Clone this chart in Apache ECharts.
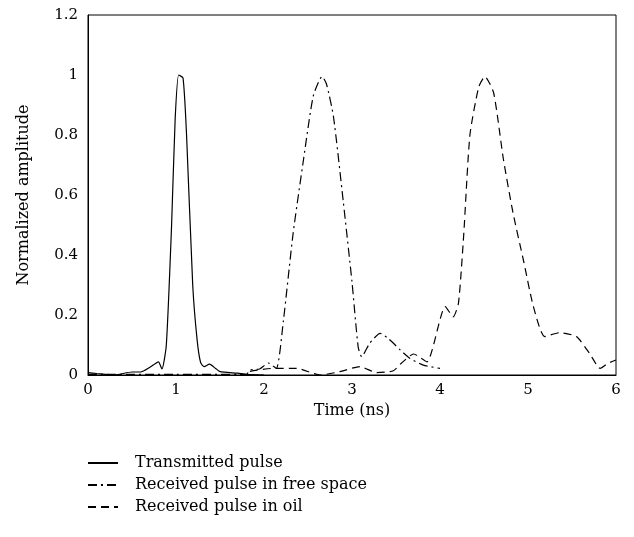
<!DOCTYPE html>
<html>
<head>
<meta charset="utf-8">
<script src="https://cdn.jsdelivr.net/npm/echarts@6/dist/echarts.min.js"></script>
<style>
  html, body { margin: 0; padding: 0; background: #fff; }
  #main { width: 634px; height: 537px; }
</style>
</head>
<body>
<div id="main"></div>
<script>
// time (ns) and amplitude
const txTime = [0, 0.1, 0.3, 0.5, 0.6, 0.7, 0.8, 0.84, 0.89, 0.95, 0.99, 1.03, 1.08, 1.12, 1.19, 1.24, 1.28, 1.32, 1.38, 1.45, 1.5, 1.7, 1.8, 2.0];
const txAmp  = [0.008, 0.005, 0, 0.01, 0.01, 0.025, 0.044, 0.02, 0.1, 0.5, 0.85, 1.0, 0.99, 0.8, 0.3, 0.117, 0.041, 0.028, 0.036, 0.022, 0.011, 0.006, 0.002, 0];

const freeTime = [0, 1.0, 1.8, 1.84, 1.95, 2.05, 2.14, 2.22, 2.33, 2.45, 2.56, 2.66, 2.71, 2.79, 2.9, 3.0, 3.07, 3.11, 3.2, 3.32, 3.41, 3.55, 3.66, 3.81, 4.0];
const freeAmp  = [0.002, 0.002, 0.002, 0.017, 0.02, 0.04, 0.022, 0.18, 0.47, 0.72, 0.93, 0.995, 0.97, 0.86, 0.58, 0.31, 0.094, 0.061, 0.105, 0.139, 0.122, 0.083, 0.055, 0.033, 0.022];

const oilTime = [1.84, 2.1, 2.37, 2.64, 2.86, 3.09, 3.28, 3.47, 3.56, 3.7, 3.85, 4.06, 4.15, 4.21, 4.27, 4.34, 4.44, 4.51, 4.61, 4.72, 4.83, 4.95, 5.06, 5.19, 5.36, 5.55, 5.7, 5.82, 5.91, 6.0];
const oilAmp  = [0.012, 0.022, 0.022, 0.0, 0.011, 0.028, 0.008, 0.014, 0.039, 0.07, 0.044, 0.228, 0.194, 0.24, 0.47, 0.8, 0.96, 0.995, 0.94, 0.72, 0.54, 0.38, 0.23, 0.128, 0.141, 0.128, 0.072, 0.022, 0.039, 0.05];

const seriesNames = ['Transmitted pulse', 'Received pulse in free space', 'Received pulse in oil'];

function pairs(xs, ys) {
    return xs.map((x, i) => [x, ys[i]]);
}

const font = 'DejaVu Serif';
const chart = echarts.init(document.getElementById('main'));

function lineSeries(name, data, type) {
    return {
        name: name,
        type: 'line',
        data: data,
        symbol: 'none',
        smooth: 0.2,
        lineStyle: { color: '#000', width: 1.2, type: type },
        itemStyle: { color: '#000' }
    };
}

chart.setOption({
    animation: false,
    backgroundColor: '#fff',
    grid: { left: 88, right: 18, top: 15, bottom: 162, show: true, borderColor: '#000', borderWidth: 1 },
    xAxis: {
        type: 'value', min: 0, max: 6, interval: 1,
        name: 'Time (ns)', nameLocation: 'middle', nameGap: 28,
        nameTextStyle: { fontFamily: font, fontSize: 16, color: '#000' },
        axisLine: { lineStyle: { color: '#000' } },
        axisTick: { show: false },
        axisLabel: { fontFamily: font, fontSize: 15, color: '#000', margin: 8 },
        splitLine: { show: false }
    },
    yAxis: {
        type: 'value', min: 0, max: 1.2, interval: 0.2,
        name: 'Normalized amplitude', nameLocation: 'middle', nameGap: 56,
        nameTextStyle: { fontFamily: font, fontSize: 16, color: '#000' },
        axisLine: { show: true, lineStyle: { color: '#000' } },
        axisTick: { show: false },
        axisLabel: { fontFamily: font, fontSize: 15, color: '#000', margin: 10 },
        splitLine: { show: false }
    },
    legend: {
        orient: 'vertical', left: 82, top: 450,
        itemWidth: 30, itemHeight: 10, itemGap: 6,
        itemStyle: { opacity: 0 },
        textStyle: { fontFamily: font, fontSize: 16, color: '#000', padding: [0, 0, 0, 12] },
        data: seriesNames
    },
    series: [
        lineSeries(seriesNames[0], pairs(txTime, txAmp), 'solid'),
        lineSeries(seriesNames[1], pairs(freeTime, freeAmp), [9, 4, 2, 4]),
        lineSeries(seriesNames[2], pairs(oilTime, oilAmp), [8, 5])
    ]
});
</script>
</body>
</html>
